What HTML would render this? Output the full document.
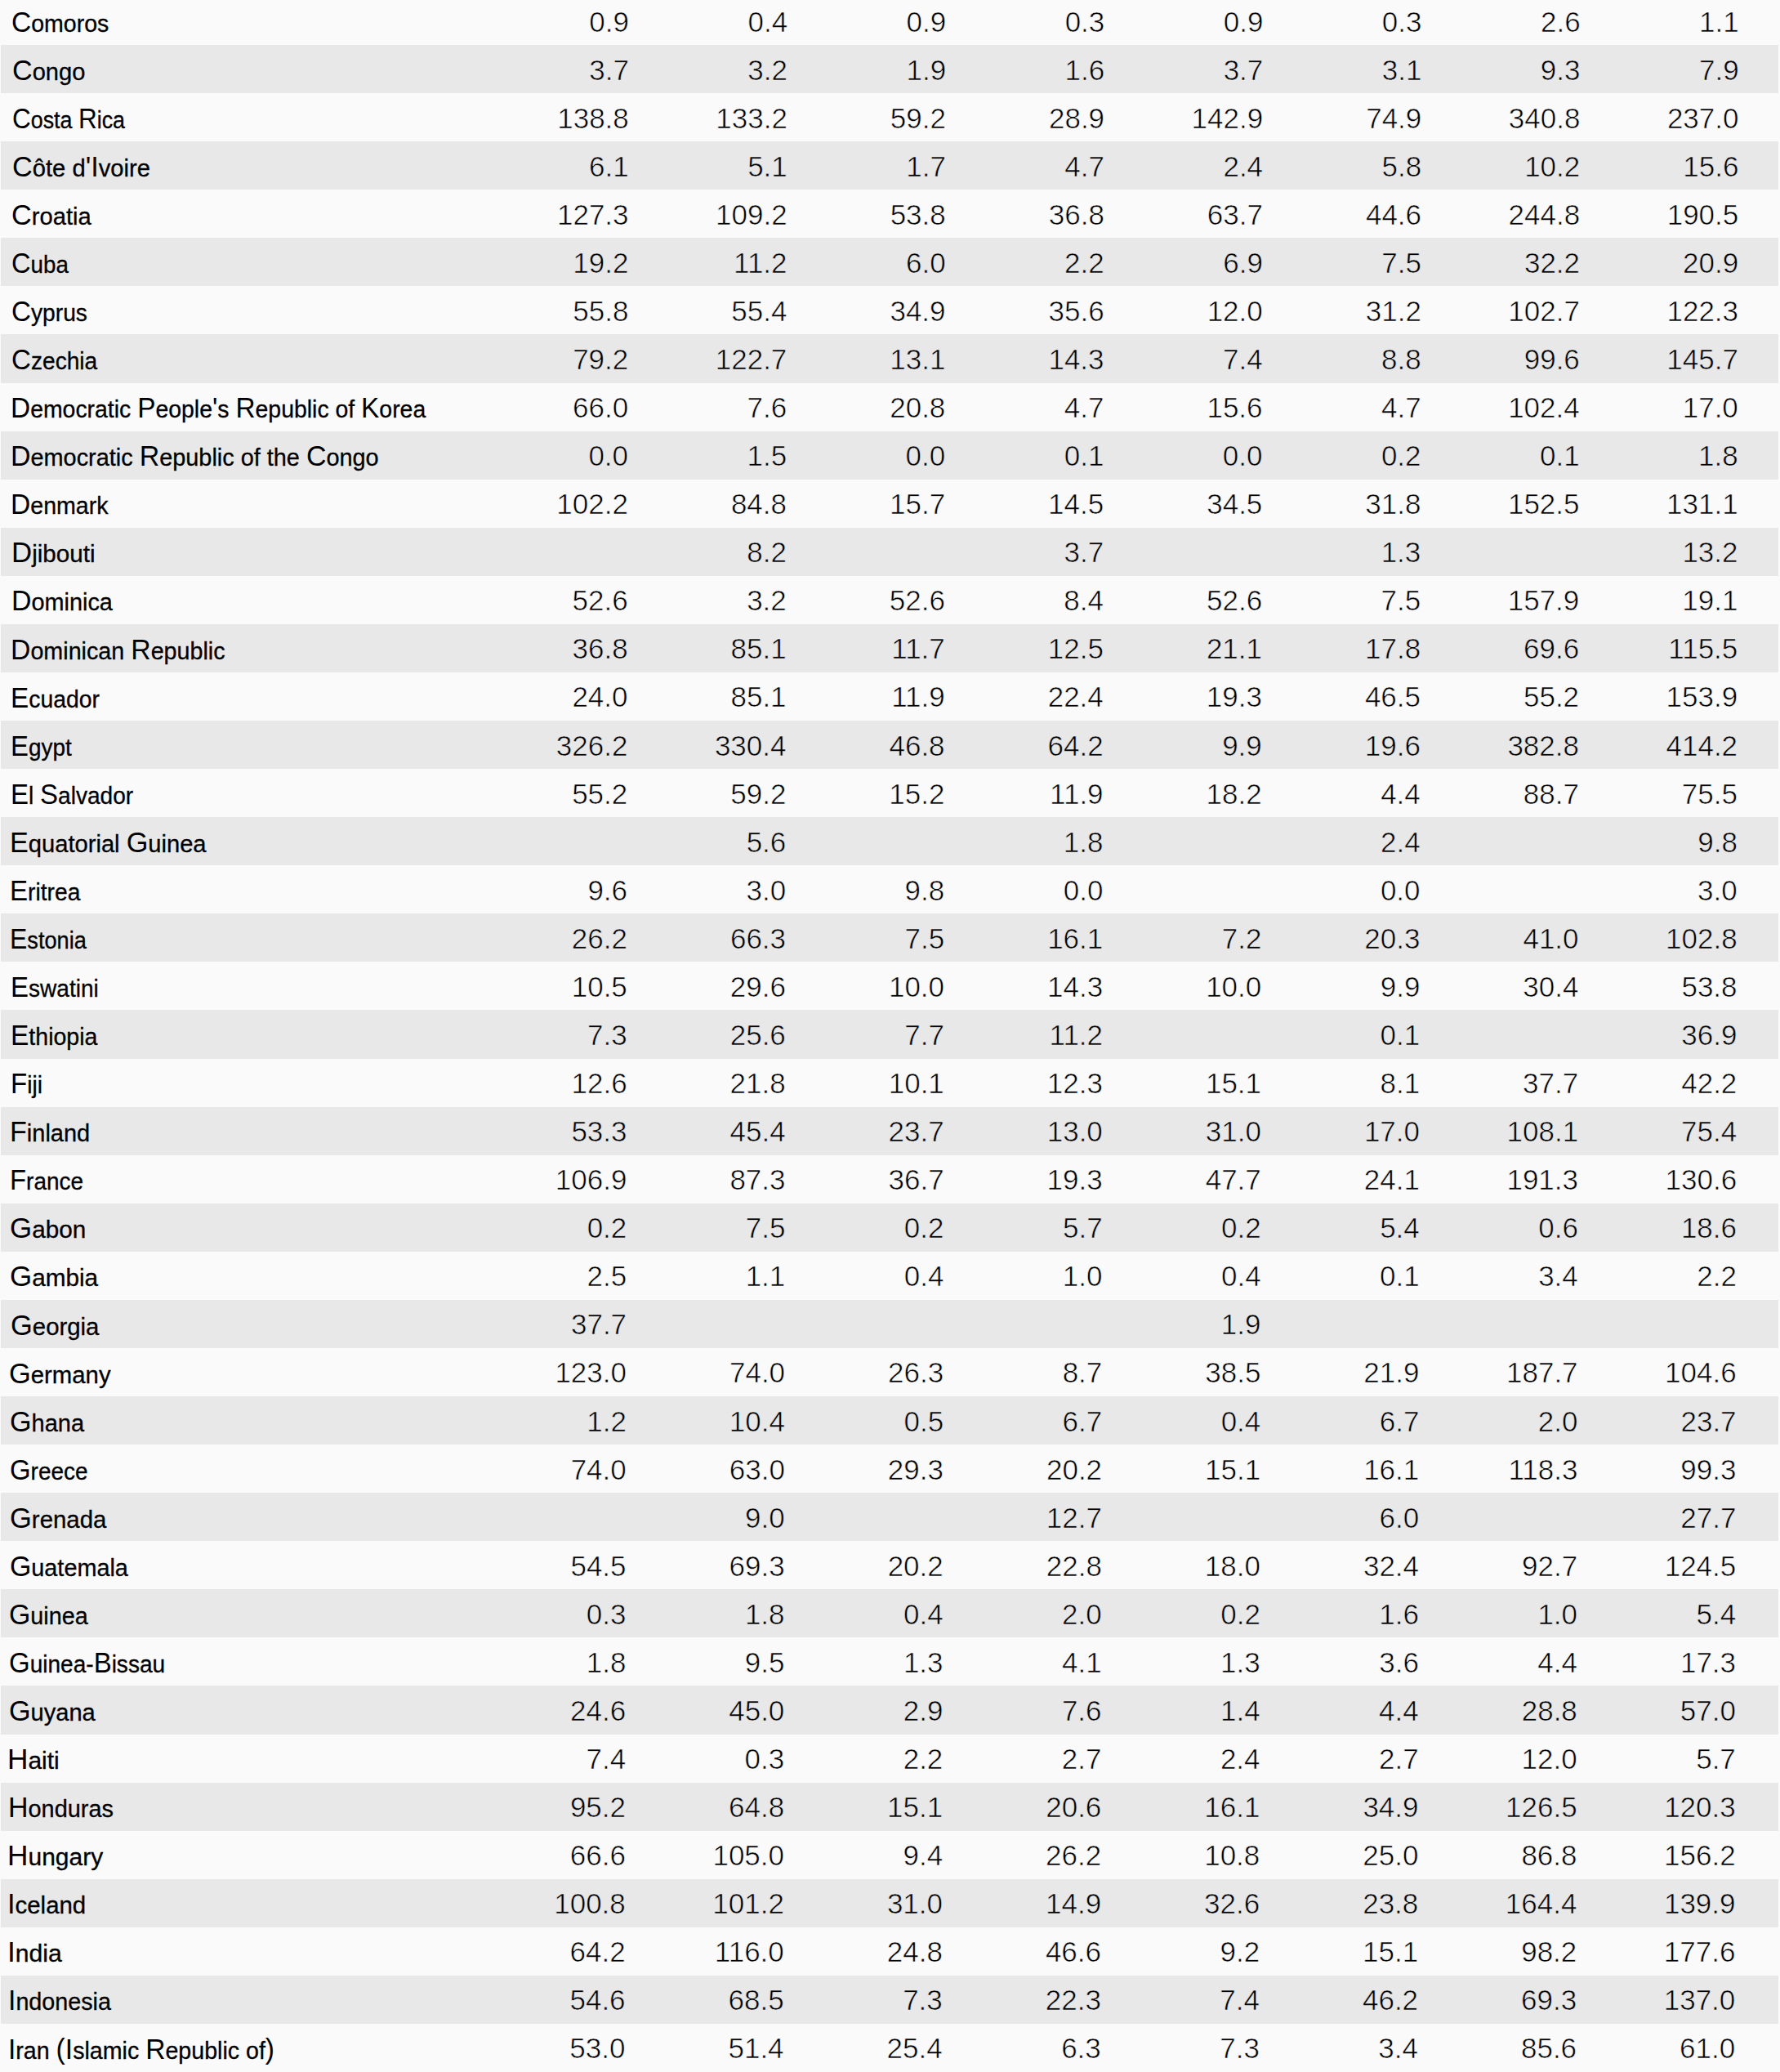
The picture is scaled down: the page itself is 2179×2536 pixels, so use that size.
<!DOCTYPE html>
<html lang="en"><head><meta charset="utf-8"><title>Table</title>
<style>
html,body{margin:0;padding:0}
body{width:2179px;height:2536px;overflow:hidden;position:relative;background:#fafafa;
font-family:"Liberation Sans",Arial,sans-serif;font-size:34.7px;color:#000;line-height:1}
.t{position:absolute;left:0;top:0;width:2179px;height:2536px;margin:0;padding:0}
.r{position:absolute;left:1.3px;width:2175.70px;height:59.07px;background:#fafafa}
.r.g{background:#e8e8e8}
.v{-webkit-text-stroke:0.6px #fafafa}
.g .v{-webkit-text-stroke-color:#e8e8e8}
.n{-webkit-text-stroke:0.3px #000}
.n .u{-webkit-text-stroke:0px #000}
.n,.v{position:absolute;white-space:nowrap;line-height:34.7px}
.n{transform-origin:0 0;letter-spacing:0.0px;font-size:29.5px}
.n .u{font-size:34.7px}
.v{text-align:right;width:180px;font-size:35.0px}
</style></head><body>
<div class="t">
<div class="r" style="top:-4.01px"><span class="n" style="left:13.09px;top:13.63px;transform:scaleX(0.9667)"><span class="u">C</span>omoros</span><span class="v" style="left:588.71px;top:13.52px">0.9</span><span class="v" style="left:782.81px;top:13.52px">0.4</span><span class="v" style="left:976.91px;top:13.52px">0.9</span><span class="v" style="left:1171.01px;top:13.52px">0.3</span><span class="v" style="left:1365.11px;top:13.52px">0.9</span><span class="v" style="left:1559.21px;top:13.52px">0.3</span><span class="v" style="left:1753.31px;top:13.52px">2.6</span><span class="v" style="left:1947.41px;top:13.52px">1.1</span></div>
<div class="r g" style="top:55.06px"><span class="n" style="left:13.33px;top:13.63px;transform:scaleX(0.9852)"><span class="u">C</span>ongo</span><span class="v" style="left:588.61px;top:13.52px">3.7</span><span class="v" style="left:782.71px;top:13.52px">3.2</span><span class="v" style="left:976.81px;top:13.52px">1.9</span><span class="v" style="left:1170.91px;top:13.52px">1.6</span><span class="v" style="left:1365.01px;top:13.52px">3.7</span><span class="v" style="left:1559.11px;top:13.52px">3.1</span><span class="v" style="left:1753.21px;top:13.52px">9.3</span><span class="v" style="left:1947.31px;top:13.52px">7.9</span></div>
<div class="r" style="top:114.13px"><span class="n" style="left:13.34px;top:13.63px;transform:scaleX(0.9093)"><span class="u">C</span>osta <span class="u">R</span>ica</span><span class="v" style="left:588.50px;top:13.52px">138.8</span><span class="v" style="left:782.60px;top:13.52px">133.2</span><span class="v" style="left:976.70px;top:13.52px">59.2</span><span class="v" style="left:1170.80px;top:13.52px">28.9</span><span class="v" style="left:1364.90px;top:13.52px">142.9</span><span class="v" style="left:1559.00px;top:13.52px">74.9</span><span class="v" style="left:1753.10px;top:13.52px">340.8</span><span class="v" style="left:1947.20px;top:13.52px">237.0</span></div>
<div class="r g" style="top:173.20px"><span class="n" style="left:13.21px;top:13.63px;transform:scaleX(0.9887)"><span class="u">C</span>ôte d<span class="u">'I</span>voire</span><span class="v" style="left:588.39px;top:13.52px">6.1</span><span class="v" style="left:782.49px;top:13.52px">5.1</span><span class="v" style="left:976.59px;top:13.52px">1.7</span><span class="v" style="left:1170.69px;top:13.52px">4.7</span><span class="v" style="left:1364.79px;top:13.52px">2.4</span><span class="v" style="left:1558.89px;top:13.52px">5.8</span><span class="v" style="left:1752.99px;top:13.52px">10.2</span><span class="v" style="left:1947.09px;top:13.52px">15.6</span></div>
<div class="r" style="top:232.27px"><span class="n" style="left:13.10px;top:13.63px;transform:scaleX(0.9887)"><span class="u">C</span>roatia</span><span class="v" style="left:588.28px;top:13.52px">127.3</span><span class="v" style="left:782.38px;top:13.52px">109.2</span><span class="v" style="left:976.48px;top:13.52px">53.8</span><span class="v" style="left:1170.58px;top:13.52px">36.8</span><span class="v" style="left:1364.68px;top:13.52px">63.7</span><span class="v" style="left:1558.78px;top:13.52px">44.6</span><span class="v" style="left:1752.88px;top:13.52px">244.8</span><span class="v" style="left:1946.98px;top:13.52px">190.5</span></div>
<div class="r g" style="top:291.34px"><span class="n" style="left:13.09px;top:13.63px;transform:scaleX(0.9397)"><span class="u">C</span>uba</span><span class="v" style="left:588.18px;top:13.52px">19.2</span><span class="v" style="left:782.28px;top:13.52px">11.2</span><span class="v" style="left:976.38px;top:13.52px">6.0</span><span class="v" style="left:1170.48px;top:13.52px">2.2</span><span class="v" style="left:1364.58px;top:13.52px">6.9</span><span class="v" style="left:1558.68px;top:13.52px">7.5</span><span class="v" style="left:1752.78px;top:13.52px">32.2</span><span class="v" style="left:1946.88px;top:13.52px">20.9</span></div>
<div class="r" style="top:350.41px"><span class="n" style="left:12.95px;top:13.63px;transform:scaleX(0.9564)"><span class="u">C</span>yprus</span><span class="v" style="left:588.07px;top:13.52px">55.8</span><span class="v" style="left:782.17px;top:13.52px">55.4</span><span class="v" style="left:976.27px;top:13.52px">34.9</span><span class="v" style="left:1170.37px;top:13.52px">35.6</span><span class="v" style="left:1364.47px;top:13.52px">12.0</span><span class="v" style="left:1558.57px;top:13.52px">31.2</span><span class="v" style="left:1752.67px;top:13.52px">102.7</span><span class="v" style="left:1946.77px;top:13.52px">122.3</span></div>
<div class="r g" style="top:409.48px"><span class="n" style="left:12.85px;top:13.63px;transform:scaleX(0.9541)"><span class="u">C</span>zechia</span><span class="v" style="left:587.96px;top:13.52px">79.2</span><span class="v" style="left:782.06px;top:13.52px">122.7</span><span class="v" style="left:976.16px;top:13.52px">13.1</span><span class="v" style="left:1170.26px;top:13.52px">14.3</span><span class="v" style="left:1364.36px;top:13.52px">7.4</span><span class="v" style="left:1558.46px;top:13.52px">8.8</span><span class="v" style="left:1752.56px;top:13.52px">99.6</span><span class="v" style="left:1946.66px;top:13.52px">145.7</span></div>
<div class="r" style="top:468.55px"><span class="n" style="left:11.77px;top:13.63px;transform:scaleX(0.9629)"><span class="u">D</span>emocratic <span class="u">P</span>eople<span class="u">'</span>s <span class="u">R</span>epublic of <span class="u">K</span>orea</span><span class="v" style="left:587.85px;top:13.52px">66.0</span><span class="v" style="left:781.95px;top:13.52px">7.6</span><span class="v" style="left:976.05px;top:13.52px">20.8</span><span class="v" style="left:1170.15px;top:13.52px">4.7</span><span class="v" style="left:1364.25px;top:13.52px">15.6</span><span class="v" style="left:1558.35px;top:13.52px">4.7</span><span class="v" style="left:1752.45px;top:13.52px">102.4</span><span class="v" style="left:1946.55px;top:13.52px">17.0</span></div>
<div class="r g" style="top:527.62px"><span class="n" style="left:11.62px;top:13.63px;transform:scaleX(0.9785)"><span class="u">D</span>emocratic <span class="u">R</span>epublic of the <span class="u">C</span>ongo</span><span class="v" style="left:587.75px;top:13.52px">0.0</span><span class="v" style="left:781.85px;top:13.52px">1.5</span><span class="v" style="left:975.95px;top:13.52px">0.0</span><span class="v" style="left:1170.05px;top:13.52px">0.1</span><span class="v" style="left:1364.15px;top:13.52px">0.0</span><span class="v" style="left:1558.25px;top:13.52px">0.2</span><span class="v" style="left:1752.35px;top:13.52px">0.1</span><span class="v" style="left:1946.45px;top:13.52px">1.8</span></div>
<div class="r" style="top:586.69px"><span class="n" style="left:11.55px;top:13.63px;transform:scaleX(0.9683)"><span class="u">D</span>enmark</span><span class="v" style="left:587.64px;top:13.52px">102.2</span><span class="v" style="left:781.74px;top:13.52px">84.8</span><span class="v" style="left:975.84px;top:13.52px">15.7</span><span class="v" style="left:1169.94px;top:13.52px">14.5</span><span class="v" style="left:1364.04px;top:13.52px">34.5</span><span class="v" style="left:1558.14px;top:13.52px">31.8</span><span class="v" style="left:1752.24px;top:13.52px">152.5</span><span class="v" style="left:1946.34px;top:13.52px">131.1</span></div>
<div class="r g" style="top:645.76px"><span class="n" style="left:12.32px;top:13.63px;transform:scaleX(1.0031)"><span class="u">D</span>jibouti</span><span class="v" style="left:781.63px;top:13.52px">8.2</span><span class="v" style="left:1169.83px;top:13.52px">3.7</span><span class="v" style="left:1558.03px;top:13.52px">1.3</span><span class="v" style="left:1946.23px;top:13.52px">13.2</span></div>
<div class="r" style="top:704.83px"><span class="n" style="left:12.28px;top:13.63px;transform:scaleX(0.9774)"><span class="u">D</span>ominica</span><span class="v" style="left:587.42px;top:13.52px">52.6</span><span class="v" style="left:781.52px;top:13.52px">3.2</span><span class="v" style="left:975.62px;top:13.52px">52.6</span><span class="v" style="left:1169.72px;top:13.52px">8.4</span><span class="v" style="left:1363.82px;top:13.52px">52.6</span><span class="v" style="left:1557.92px;top:13.52px">7.5</span><span class="v" style="left:1752.02px;top:13.52px">157.9</span><span class="v" style="left:1946.12px;top:13.52px">19.1</span></div>
<div class="r g" style="top:763.90px"><span class="n" style="left:11.49px;top:13.63px;transform:scaleX(0.9730)"><span class="u">D</span>ominican <span class="u">R</span>epublic</span><span class="v" style="left:587.32px;top:13.52px">36.8</span><span class="v" style="left:781.42px;top:13.52px">85.1</span><span class="v" style="left:975.52px;top:13.52px">11.7</span><span class="v" style="left:1169.62px;top:13.52px">12.5</span><span class="v" style="left:1363.72px;top:13.52px">21.1</span><span class="v" style="left:1557.82px;top:13.52px">17.8</span><span class="v" style="left:1751.92px;top:13.52px">69.6</span><span class="v" style="left:1946.02px;top:13.52px">115.5</span></div>
<div class="r" style="top:822.97px"><span class="n" style="left:11.42px;top:13.63px;transform:scaleX(0.9609)"><span class="u">E</span>cuador</span><span class="v" style="left:587.21px;top:13.52px">24.0</span><span class="v" style="left:781.31px;top:13.52px">85.1</span><span class="v" style="left:975.41px;top:13.52px">11.9</span><span class="v" style="left:1169.51px;top:13.52px">22.4</span><span class="v" style="left:1363.61px;top:13.52px">19.3</span><span class="v" style="left:1557.71px;top:13.52px">46.5</span><span class="v" style="left:1751.81px;top:13.52px">55.2</span><span class="v" style="left:1945.91px;top:13.52px">153.9</span></div>
<div class="r g" style="top:882.04px"><span class="n" style="left:11.35px;top:13.63px;transform:scaleX(0.9474)"><span class="u">E</span>gypt</span><span class="v" style="left:587.10px;top:13.52px">326.2</span><span class="v" style="left:781.20px;top:13.52px">330.4</span><span class="v" style="left:975.30px;top:13.52px">46.8</span><span class="v" style="left:1169.40px;top:13.52px">64.2</span><span class="v" style="left:1363.50px;top:13.52px">9.9</span><span class="v" style="left:1557.60px;top:13.52px">19.6</span><span class="v" style="left:1751.70px;top:13.52px">382.8</span><span class="v" style="left:1945.80px;top:13.52px">414.2</span></div>
<div class="r" style="top:941.11px"><span class="n" style="left:11.24px;top:13.63px;transform:scaleX(0.9516)"><span class="u">E</span>l <span class="u">S</span>alvador</span><span class="v" style="left:586.99px;top:13.52px">55.2</span><span class="v" style="left:781.09px;top:13.52px">59.2</span><span class="v" style="left:975.19px;top:13.52px">15.2</span><span class="v" style="left:1169.29px;top:13.52px">11.9</span><span class="v" style="left:1363.39px;top:13.52px">18.2</span><span class="v" style="left:1557.49px;top:13.52px">4.4</span><span class="v" style="left:1751.59px;top:13.52px">88.7</span><span class="v" style="left:1945.69px;top:13.52px">75.5</span></div>
<div class="r g" style="top:1000.18px"><span class="n" style="left:11.03px;top:13.63px;transform:scaleX(0.9871)"><span class="u">E</span>quatorial <span class="u">G</span>uinea</span><span class="v" style="left:780.99px;top:13.52px">5.6</span><span class="v" style="left:1169.19px;top:13.52px">1.8</span><span class="v" style="left:1557.39px;top:13.52px">2.4</span><span class="v" style="left:1945.59px;top:13.52px">9.8</span></div>
<div class="r" style="top:1059.25px"><span class="n" style="left:10.72px;top:13.63px;transform:scaleX(0.9552)"><span class="u">E</span>ritrea</span><span class="v" style="left:586.78px;top:13.52px">9.6</span><span class="v" style="left:780.88px;top:13.52px">3.0</span><span class="v" style="left:974.98px;top:13.52px">9.8</span><span class="v" style="left:1169.08px;top:13.52px">0.0</span><span class="v" style="left:1557.28px;top:13.52px">0.0</span><span class="v" style="left:1945.48px;top:13.52px">3.0</span></div>
<div class="r g" style="top:1118.32px"><span class="n" style="left:10.73px;top:13.63px;transform:scaleX(0.9212)"><span class="u">E</span>stonia</span><span class="v" style="left:586.67px;top:13.52px">26.2</span><span class="v" style="left:780.77px;top:13.52px">66.3</span><span class="v" style="left:974.87px;top:13.52px">7.5</span><span class="v" style="left:1168.97px;top:13.52px">16.1</span><span class="v" style="left:1363.07px;top:13.52px">7.2</span><span class="v" style="left:1557.17px;top:13.52px">20.3</span><span class="v" style="left:1751.27px;top:13.52px">41.0</span><span class="v" style="left:1945.37px;top:13.52px">102.8</span></div>
<div class="r" style="top:1177.39px"><span class="n" style="left:11.48px;top:13.63px;transform:scaleX(0.9514)"><span class="u">E</span>swatini</span><span class="v" style="left:586.56px;top:13.52px">10.5</span><span class="v" style="left:780.66px;top:13.52px">29.6</span><span class="v" style="left:974.76px;top:13.52px">10.0</span><span class="v" style="left:1168.86px;top:13.52px">14.3</span><span class="v" style="left:1362.96px;top:13.52px">10.0</span><span class="v" style="left:1557.06px;top:13.52px">9.9</span><span class="v" style="left:1751.16px;top:13.52px">30.4</span><span class="v" style="left:1945.26px;top:13.52px">53.8</span></div>
<div class="r g" style="top:1236.46px"><span class="n" style="left:11.34px;top:13.63px;transform:scaleX(0.9667)"><span class="u">E</span>thiopia</span><span class="v" style="left:586.46px;top:13.52px">7.3</span><span class="v" style="left:780.56px;top:13.52px">25.6</span><span class="v" style="left:974.66px;top:13.52px">7.7</span><span class="v" style="left:1168.76px;top:13.52px">11.2</span><span class="v" style="left:1556.96px;top:13.52px">0.1</span><span class="v" style="left:1945.16px;top:13.52px">36.9</span></div>
<div class="r" style="top:1295.53px"><span class="n" style="left:11.27px;top:13.63px;transform:scaleX(0.9541)"><span class="u">F</span>iji</span><span class="v" style="left:586.35px;top:13.52px">12.6</span><span class="v" style="left:780.45px;top:13.52px">21.8</span><span class="v" style="left:974.55px;top:13.52px">10.1</span><span class="v" style="left:1168.65px;top:13.52px">12.3</span><span class="v" style="left:1362.75px;top:13.52px">15.1</span><span class="v" style="left:1556.85px;top:13.52px">8.1</span><span class="v" style="left:1750.95px;top:13.52px">37.7</span><span class="v" style="left:1945.05px;top:13.52px">42.2</span></div>
<div class="r g" style="top:1354.60px"><span class="n" style="left:10.39px;top:13.63px;transform:scaleX(0.9823)"><span class="u">F</span>inland</span><span class="v" style="left:586.24px;top:13.52px">53.3</span><span class="v" style="left:780.34px;top:13.52px">45.4</span><span class="v" style="left:974.44px;top:13.52px">23.7</span><span class="v" style="left:1168.54px;top:13.52px">13.0</span><span class="v" style="left:1362.64px;top:13.52px">31.0</span><span class="v" style="left:1556.74px;top:13.52px">17.0</span><span class="v" style="left:1750.84px;top:13.52px">108.1</span><span class="v" style="left:1944.94px;top:13.52px">75.4</span></div>
<div class="r" style="top:1413.67px"><span class="n" style="left:10.38px;top:13.63px;transform:scaleX(0.9473)"><span class="u">F</span>rance</span><span class="v" style="left:586.13px;top:13.52px">106.9</span><span class="v" style="left:780.23px;top:13.52px">87.3</span><span class="v" style="left:974.33px;top:13.52px">36.7</span><span class="v" style="left:1168.43px;top:13.52px">19.3</span><span class="v" style="left:1362.53px;top:13.52px">47.7</span><span class="v" style="left:1556.63px;top:13.52px">24.1</span><span class="v" style="left:1750.73px;top:13.52px">191.3</span><span class="v" style="left:1944.83px;top:13.52px">130.6</span></div>
<div class="r g" style="top:1472.74px"><span class="n" style="left:10.42px;top:13.63px;transform:scaleX(1.0067)"><span class="u">G</span>abon</span><span class="v" style="left:586.03px;top:13.52px">0.2</span><span class="v" style="left:780.13px;top:13.52px">7.5</span><span class="v" style="left:974.23px;top:13.52px">0.2</span><span class="v" style="left:1168.33px;top:13.52px">5.7</span><span class="v" style="left:1362.43px;top:13.52px">0.2</span><span class="v" style="left:1556.53px;top:13.52px">5.4</span><span class="v" style="left:1750.63px;top:13.52px">0.6</span><span class="v" style="left:1944.73px;top:13.52px">18.6</span></div>
<div class="r" style="top:1531.81px"><span class="n" style="left:10.30px;top:13.63px;transform:scaleX(1.0076)"><span class="u">G</span>ambia</span><span class="v" style="left:585.92px;top:13.52px">2.5</span><span class="v" style="left:780.02px;top:13.52px">1.1</span><span class="v" style="left:974.12px;top:13.52px">0.4</span><span class="v" style="left:1168.22px;top:13.52px">1.0</span><span class="v" style="left:1362.32px;top:13.52px">0.4</span><span class="v" style="left:1556.42px;top:13.52px">0.1</span><span class="v" style="left:1750.52px;top:13.52px">3.4</span><span class="v" style="left:1944.62px;top:13.52px">2.2</span></div>
<div class="r g" style="top:1590.88px"><span class="n" style="left:11.22px;top:13.63px;transform:scaleX(0.9944)"><span class="u">G</span>eorgia</span><span class="v" style="left:585.81px;top:13.52px">37.7</span><span class="v" style="left:1362.21px;top:13.52px">1.9</span></div>
<div class="r" style="top:1649.95px"><span class="n" style="left:9.82px;top:13.63px;transform:scaleX(0.9935)"><span class="u">G</span>ermany</span><span class="v" style="left:585.70px;top:13.52px">123.0</span><span class="v" style="left:779.80px;top:13.52px">74.0</span><span class="v" style="left:973.90px;top:13.52px">26.3</span><span class="v" style="left:1168.00px;top:13.52px">8.7</span><span class="v" style="left:1362.10px;top:13.52px">38.5</span><span class="v" style="left:1556.20px;top:13.52px">21.9</span><span class="v" style="left:1750.30px;top:13.52px">187.7</span><span class="v" style="left:1944.40px;top:13.52px">104.6</span></div>
<div class="r g" style="top:1709.02px"><span class="n" style="left:10.72px;top:13.63px;transform:scaleX(0.9835)"><span class="u">G</span>hana</span><span class="v" style="left:585.60px;top:13.52px">1.2</span><span class="v" style="left:779.70px;top:13.52px">10.4</span><span class="v" style="left:973.80px;top:13.52px">0.5</span><span class="v" style="left:1167.90px;top:13.52px">6.7</span><span class="v" style="left:1362.00px;top:13.52px">0.4</span><span class="v" style="left:1556.10px;top:13.52px">6.7</span><span class="v" style="left:1750.20px;top:13.52px">2.0</span><span class="v" style="left:1944.30px;top:13.52px">23.7</span></div>
<div class="r" style="top:1768.09px"><span class="n" style="left:10.67px;top:13.63px;transform:scaleX(0.9480)"><span class="u">G</span>reece</span><span class="v" style="left:585.49px;top:13.52px">74.0</span><span class="v" style="left:779.59px;top:13.52px">63.0</span><span class="v" style="left:973.69px;top:13.52px">29.3</span><span class="v" style="left:1167.79px;top:13.52px">20.2</span><span class="v" style="left:1361.89px;top:13.52px">15.1</span><span class="v" style="left:1555.99px;top:13.52px">16.1</span><span class="v" style="left:1750.09px;top:13.52px">118.3</span><span class="v" style="left:1944.19px;top:13.52px">99.3</span></div>
<div class="r g" style="top:1827.16px"><span class="n" style="left:10.49px;top:13.63px;transform:scaleX(0.9957)"><span class="u">G</span>renada</span><span class="v" style="left:779.48px;top:13.52px">9.0</span><span class="v" style="left:1167.68px;top:13.52px">12.7</span><span class="v" style="left:1555.88px;top:13.52px">6.0</span><span class="v" style="left:1944.08px;top:13.52px">27.7</span></div>
<div class="r" style="top:1886.23px"><span class="n" style="left:10.41px;top:13.63px;transform:scaleX(0.9762)"><span class="u">G</span>uatemala</span><span class="v" style="left:585.27px;top:13.52px">54.5</span><span class="v" style="left:779.37px;top:13.52px">69.3</span><span class="v" style="left:973.47px;top:13.52px">20.2</span><span class="v" style="left:1167.57px;top:13.52px">22.8</span><span class="v" style="left:1361.67px;top:13.52px">18.0</span><span class="v" style="left:1555.77px;top:13.52px">32.4</span><span class="v" style="left:1749.87px;top:13.52px">92.7</span><span class="v" style="left:1943.97px;top:13.52px">124.5</span></div>
<div class="r g" style="top:1945.30px"><span class="n" style="left:9.62px;top:13.63px;transform:scaleX(0.9755)"><span class="u">G</span>uinea</span><span class="v" style="left:585.17px;top:13.52px">0.3</span><span class="v" style="left:779.27px;top:13.52px">1.8</span><span class="v" style="left:973.37px;top:13.52px">0.4</span><span class="v" style="left:1167.47px;top:13.52px">2.0</span><span class="v" style="left:1361.57px;top:13.52px">0.2</span><span class="v" style="left:1555.67px;top:13.52px">1.6</span><span class="v" style="left:1749.77px;top:13.52px">1.0</span><span class="v" style="left:1943.87px;top:13.52px">5.4</span></div>
<div class="r" style="top:2004.37px"><span class="n" style="left:9.56px;top:13.63px;transform:scaleX(0.9508)"><span class="u">G</span>uinea-<span class="u">B</span>issau</span><span class="v" style="left:585.06px;top:13.52px">1.8</span><span class="v" style="left:779.16px;top:13.52px">9.5</span><span class="v" style="left:973.26px;top:13.52px">1.3</span><span class="v" style="left:1167.36px;top:13.52px">4.1</span><span class="v" style="left:1361.46px;top:13.52px">1.3</span><span class="v" style="left:1555.56px;top:13.52px">3.6</span><span class="v" style="left:1749.66px;top:13.52px">4.4</span><span class="v" style="left:1943.76px;top:13.52px">17.3</span></div>
<div class="r g" style="top:2063.44px"><span class="n" style="left:9.38px;top:13.63px;transform:scaleX(0.9849)"><span class="u">G</span>uyana</span><span class="v" style="left:584.95px;top:13.52px">24.6</span><span class="v" style="left:779.05px;top:13.52px">45.0</span><span class="v" style="left:973.15px;top:13.52px">2.9</span><span class="v" style="left:1167.25px;top:13.52px">7.6</span><span class="v" style="left:1361.35px;top:13.52px">1.4</span><span class="v" style="left:1555.45px;top:13.52px">4.4</span><span class="v" style="left:1749.55px;top:13.52px">28.8</span><span class="v" style="left:1943.65px;top:13.52px">57.0</span></div>
<div class="r" style="top:2122.51px"><span class="n" style="left:8.19px;top:13.63px;transform:scaleX(1.0155)"><span class="u">H</span>aiti</span><span class="v" style="left:584.84px;top:13.52px">7.4</span><span class="v" style="left:778.94px;top:13.52px">0.3</span><span class="v" style="left:973.04px;top:13.52px">2.2</span><span class="v" style="left:1167.14px;top:13.52px">2.7</span><span class="v" style="left:1361.24px;top:13.52px">2.4</span><span class="v" style="left:1555.34px;top:13.52px">2.7</span><span class="v" style="left:1749.44px;top:13.52px">12.0</span><span class="v" style="left:1943.54px;top:13.52px">5.7</span></div>
<div class="r g" style="top:2181.58px"><span class="n" style="left:8.21px;top:13.63px;transform:scaleX(0.9789)"><span class="u">H</span>onduras</span><span class="v" style="left:584.74px;top:13.52px">95.2</span><span class="v" style="left:778.84px;top:13.52px">64.8</span><span class="v" style="left:972.94px;top:13.52px">15.1</span><span class="v" style="left:1167.04px;top:13.52px">20.6</span><span class="v" style="left:1361.14px;top:13.52px">16.1</span><span class="v" style="left:1555.24px;top:13.52px">34.9</span><span class="v" style="left:1749.34px;top:13.52px">126.5</span><span class="v" style="left:1943.44px;top:13.52px">120.3</span></div>
<div class="r" style="top:2240.65px"><span class="n" style="left:7.98px;top:13.63px;transform:scaleX(1.0161)"><span class="u">H</span>ungary</span><span class="v" style="left:584.63px;top:13.52px">66.6</span><span class="v" style="left:778.73px;top:13.52px">105.0</span><span class="v" style="left:972.83px;top:13.52px">9.4</span><span class="v" style="left:1166.93px;top:13.52px">26.2</span><span class="v" style="left:1361.03px;top:13.52px">10.8</span><span class="v" style="left:1555.13px;top:13.52px">25.0</span><span class="v" style="left:1749.23px;top:13.52px">86.8</span><span class="v" style="left:1943.33px;top:13.52px">156.2</span></div>
<div class="r g" style="top:2299.72px"><span class="n" style="left:7.94px;top:13.63px;transform:scaleX(0.9957)"><span class="u">I</span>celand</span><span class="v" style="left:584.52px;top:13.52px">100.8</span><span class="v" style="left:778.62px;top:13.52px">101.2</span><span class="v" style="left:972.72px;top:13.52px">31.0</span><span class="v" style="left:1166.82px;top:13.52px">14.9</span><span class="v" style="left:1360.92px;top:13.52px">32.6</span><span class="v" style="left:1555.02px;top:13.52px">23.8</span><span class="v" style="left:1749.12px;top:13.52px">164.4</span><span class="v" style="left:1943.22px;top:13.52px">139.9</span></div>
<div class="r" style="top:2358.79px"><span class="n" style="left:7.73px;top:13.63px;transform:scaleX(1.0210)"><span class="u">I</span>ndia</span><span class="v" style="left:584.41px;top:13.52px">64.2</span><span class="v" style="left:778.51px;top:13.52px">116.0</span><span class="v" style="left:972.61px;top:13.52px">24.8</span><span class="v" style="left:1166.71px;top:13.52px">46.6</span><span class="v" style="left:1360.81px;top:13.52px">9.2</span><span class="v" style="left:1554.91px;top:13.52px">15.1</span><span class="v" style="left:1749.01px;top:13.52px">98.2</span><span class="v" style="left:1943.11px;top:13.52px">177.6</span></div>
<div class="r g" style="top:2417.86px"><span class="n" style="left:8.78px;top:13.63px;transform:scaleX(0.9732)"><span class="u">I</span>ndonesia</span><span class="v" style="left:584.31px;top:13.52px">54.6</span><span class="v" style="left:778.41px;top:13.52px">68.5</span><span class="v" style="left:972.51px;top:13.52px">7.3</span><span class="v" style="left:1166.61px;top:13.52px">22.3</span><span class="v" style="left:1360.71px;top:13.52px">7.4</span><span class="v" style="left:1554.81px;top:13.52px">46.2</span><span class="v" style="left:1748.91px;top:13.52px">69.3</span><span class="v" style="left:1943.01px;top:13.52px">137.0</span></div>
<div class="r" style="top:2476.93px"><span class="n" style="left:8.69px;top:13.63px;transform:scaleX(0.9692)"><span class="u">I</span>ran <span class="u">(I</span>slamic <span class="u">R</span>epublic of<span class="u">)</span></span><span class="v" style="left:584.20px;top:13.52px">53.0</span><span class="v" style="left:778.30px;top:13.52px">51.4</span><span class="v" style="left:972.40px;top:13.52px">25.4</span><span class="v" style="left:1166.50px;top:13.52px">6.3</span><span class="v" style="left:1360.60px;top:13.52px">7.3</span><span class="v" style="left:1554.70px;top:13.52px">3.4</span><span class="v" style="left:1748.80px;top:13.52px">85.6</span><span class="v" style="left:1942.90px;top:13.52px">61.0</span></div>
</div></body></html>
